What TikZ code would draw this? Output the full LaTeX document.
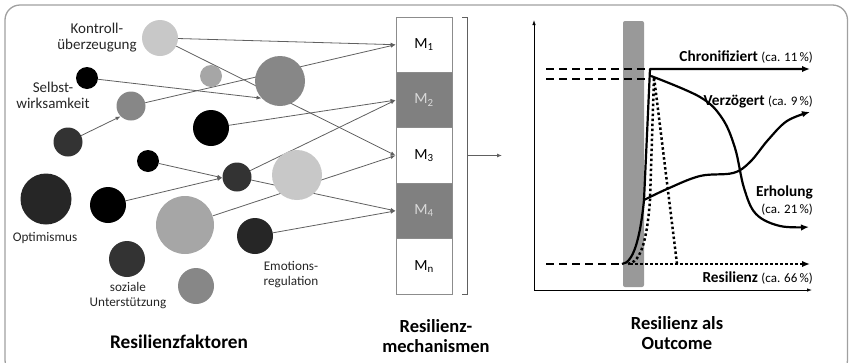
\documentclass[tikz,border=0pt]{standalone}
\usepackage{fontspec}
\setmainfont{Carlito}
\usetikzlibrary{arrows.meta,backgrounds}
\definecolor{cLight}{HTML}{C8C8C8}
\definecolor{cMid}{HTML}{A6A6A6}
\definecolor{cGray}{HTML}{878787}
\definecolor{cDark}{HTML}{333333}
\definecolor{cDarker}{HTML}{262626}
\definecolor{connC}{HTML}{606060}
\definecolor{frameC}{HTML}{A0A0A0}
\definecolor{cellC}{HTML}{8C8C8C}
\definecolor{cellFill}{HTML}{808080}
\definecolor{cellText}{HTML}{D9D9D9}
\definecolor{barC}{HTML}{999999}
\begin{document}
\begin{tikzpicture}[x=1pt,y=-1pt,
  dot/.style={circle,inner sep=0pt,minimum size=#1,draw=none},
  conn/.style={draw=connC,line width=0.8pt},
  arr/.style={conn,-{Latex[length=5pt,width=4pt]}},
  lbl/.style={font=\fontsize{13.2}{15}\selectfont,align=center,text=black!85,inner sep=0pt},
  lblbig/.style={lbl,font=\fontsize{15}{16}\selectfont},
  ttl/.style={font=\fontsize{18.5}{20}\selectfont\bfseries,align=center,inner sep=0pt},
  cell/.style={draw=cellC,line width=0.8pt,minimum width=56pt,minimum height=55.4pt,inner sep=0pt,font=\fontsize{15.5}{15.5}\selectfont},
  gcell/.style={cell,fill=cellFill,text=cellText},
  thickline/.style={line width=2.2pt,line join=round},
  bigarr/.style={thickline,-{Latex[length=8pt,width=6.5pt]}},
  dashline/.style={line width=1.8pt,dash pattern=on 8pt off 5pt},
  dotline/.style={line width=2.5pt,dash pattern=on 2.5pt off 2.5pt},
  glbl/.style={anchor=east,inner sep=0pt,font=\fontsize{15.3}{15}\selectfont\bfseries},
  small/.style={font=\fontsize{13}{13}\selectfont\mdseries}
]
\useasboundingbox (0,0) rectangle (851,362);
\begin{scope}
\clip (0,0) rectangle (851,362);
\draw[frameC,line width=1.3pt,rounded corners=15pt] (5,5) rectangle (847.5,375);
\end{scope}

% circles
\node[dot=36pt,fill=cLight] (kon) at (160,38) {};
\node[dot=22pt,fill=cMid] (sm) at (211,76) {};
\node[dot=50pt,fill=cGray] (bg) at (280,81) {};
\node[dot=22pt,fill=black] (sel) at (87,78) {};
\node[dot=29pt,fill=cGray] (g1) at (131,106) {};
\node[dot=29pt,fill=cDark] (d1) at (68,142) {};
\node[dot=36pt,fill=black] (b2) at (211,128) {};
\node[dot=22pt,fill=black] (sb) at (148,161) {};
\node[dot=29pt,fill=cDark] (d2) at (237,177) {};
\node[dot=50pt,fill=cLight] (lg) at (297,175) {};
\node[dot=51pt,fill=cDarker] (opt) at (46,199) {};
\node[dot=36pt,fill=black] (b3) at (108,205) {};
\node[dot=58pt,fill=cMid] (lgL) at (185,225) {};
\node[dot=36pt,fill=cDarker] (emo) at (255,236) {};
\node[dot=36pt,fill=cDark] (soz) at (127,259) {};
\node[dot=36pt,fill=cGray] (g3) at (196,286) {};

% labels
\node[lblbig] (tk) at (97,38) {Kontroll-\\überzeugung};
\node[lblbig] (ts) at (53,95) {Selbst-\\wirksamkeit};
\node[lbl] (to) at (45,238) {Optimismus};
\node[lbl] (tz) at (128,296) {soziale\\Unterstützung};
\node[lbl] (te) at (291,275) {Emotions-\\regulation};

% mechanism cells
\node[cell] (m1) at (424,44.7) {M\textsubscript{1}};
\node[gcell] (m2) at (424,100.1) {M\textsubscript{2}};
\node[cell] (m3) at (424,155.5) {M\textsubscript{3}};
\node[gcell] (m4) at (424,210.9) {M\textsubscript{4}};
\node[cell] (mn) at (424,266.3) {M\textsubscript{n}};

% connectors (behind circles)
\begin{scope}[on background layer]
\draw[arr] (kon) -- (m1.west);
\draw[arr] (g1) -- (m1.west);
\draw[arr] (sel) -- (bg.223);
\draw[arr] (d1) -- (g1.225);
\draw[arr] (b2) -- (m2.west);
\draw[arr] (d2) -- (m2.west);
\draw[arr] (sb) -- (d2.183);
\draw[arr] (b3) -- (d2.183);
\draw[arr] (kon) -- (m3.west);
\draw[arr] (lgL) -- (m3.west);
\draw[arr] (d2) -- (m4.west);
\draw[arr] (emo) -- (m4.west);
\end{scope}

% bracket
\draw[connC,line width=1pt] (462,17) -- (467,17) -- (467,294) -- (462,294);
\coordinate (brm) at (467,155.5);
\coordinate (outA) at (502,155.5);
\draw[arr] (brm) -- (outA);

% titles
\node[ttl,font=\fontsize{19.3}{20}\selectfont\bfseries] (t1) at (179,342) {Resilienzfaktoren};
\node[ttl] (t2) at (436,336) {Resilienz-\\mechanismen};
\node[ttl] (t3) at (677,333) {Resilienz als\\Outcome};

% outcome graph
\fill[barC,rounded corners=2pt] (623,21) rectangle (644,287);
\coordinate (O) at (534,290);
\coordinate (ytop) at (534,20);
\coordinate (xend) at (812,290);
\draw[line width=0.8pt,-{Latex[length=5pt,width=3.5pt]}] (O) -- (ytop);
\draw[line width=0.8pt,-{Latex[length=5pt,width=3.5pt]}] (O) -- (xend);

\draw[dashline] (546,69) -- (650,69);
\draw[dashline] (546,79) -- (650,79);
\draw[dashline] (546,264) -- (623,264);

% dotted resilience
\draw[dotline] (628,264) .. controls (641,262) and (647,240) .. (650,200) -- (654,77) -- (677,264);
\draw[dotline,-{Latex[length=8pt,width=6.5pt]}] (630,264) -- (810,264);

% chronified
\draw[bigarr] (622,264) .. controls (633,263) and (640,240) .. (644,200) -- (650,69) -- (810,69);
% recovery
\draw[bigarr] plot[smooth,tension=0.6] coordinates {(651,76) (700,97) (722,118) (735,148) (744,188) (756,214) (780,226) (809,227)};
% delayed
\draw[bigarr] plot[smooth,tension=0.6] coordinates {(644,200) (667,189) (700,176) (733,173) (750,162) (768,140) (787,121) (810,112)};

\node[glbl] (lc) at (813,57.5) {Chronifiziert \textnormal{\fontsize{13}{13}\selectfont(ca. 11\,\%)}};
\node[glbl] (lv) at (813,102) {Verzögert \textnormal{\fontsize{13}{13}\selectfont(ca. 9\,\%)}};
\node[glbl] (le) at (813,192) {Erholung};
\node[glbl,small] (le2) at (813,210) {(ca. 21\,\%)};
\node[glbl] (lr) at (813,278) {Resilienz \textnormal{\fontsize{13}{13}\selectfont(ca. 66\,\%)}};
\end{tikzpicture}
\end{document}
